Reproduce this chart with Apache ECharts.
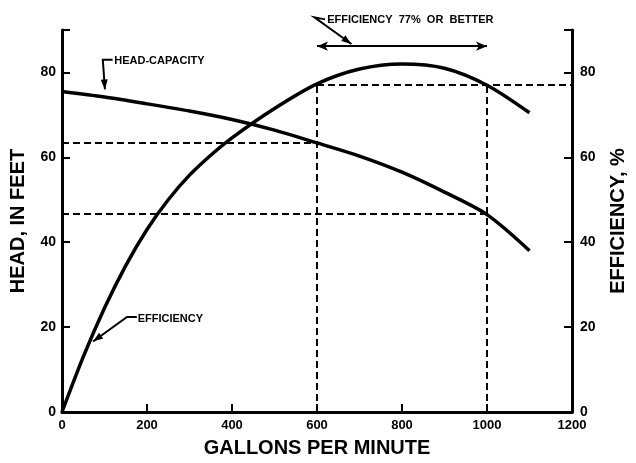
<!DOCTYPE html>
<html>
<head>
<meta charset="utf-8">
<script src="https://cdn.jsdelivr.net/npm/echarts@6/dist/echarts.min.js"></script>
<style>
  html, body { margin: 0; padding: 0; background: #fff; }
  #chart { width: 636px; height: 463px; }
</style>
</head>
<body>
<div id="chart"></div>
<script>
// pump curve
const headGpm = [0, 100, 200, 300, 400, 500, 600, 700, 800, 900, 1000, 1100];
const headFt = [75.5, 74.2, 72.6, 70.9, 68.9, 66.4, 63.4, 60.3, 56.5, 51.8, 46.5, 38];
const effGpm = [0, 50, 100, 150, 200, 250, 300, 350, 400, 500, 600, 700, 800, 900, 1000, 1100];
const effPct = [0, 13, 24.5, 34.5, 43, 50, 55.8, 60.5, 64.6, 71.5, 77.3, 80.8, 82, 81, 77, 70.5];
const xTicks = [0, 200, 400, 600, 800, 1000, 1200];
const yTicks = [0, 20, 40, 60, 80];
const yTickMarks = [0, 20, 40, 60, 80, 90];

// dashed guide lines: [x1, y1, x2, y2] in data units
const guides = [
  [0, 63.4, 600, 63.4],
  [0, 46.8, 1000, 46.8],
  [600, 77, 1200, 77],
  [600, 0, 600, 77],
  [1000, 0, 1000, 77]
];
const rangeArrow = [600, 86.2, 1000, 86.2];
// leader lines of the labels: plain segment then arrowed segment
const leaders = [
  [[119, 83], [96, 83], [101, 76]],
  [[176, 22.4], [153, 22.4], [73, 16.6]],
  [[619, 92.5], [594, 93], [681, 86.7]]
];
const notes = [
  { text: "HEAD-CAPACITY", at: [123, 82.6], size: 11 },
  { text: "EFFICIENCY", at: [178, 21.9], size: 11 },
  { text: "EFFICIENCY  77%  OR  BETTER", at: [624, 92.3], size: 11 }
];

const black = "#000";
const font = "Liberation Sans";

function seg(a, b) {
  return [{ coord: a }, { coord: b }];
}

const guideData = guides.map(g => seg([g[0], g[1]], [g[2], g[3]]));
const arrowData = [[
  { coord: [rangeArrow[0], rangeArrow[1]], symbol: "arrow" },
  { coord: [rangeArrow[2], rangeArrow[3]], symbol: "arrow" }
]];

const yAxisBase = {
  type: "value",
  min: 0,
  max: 90,
  interval: 20,
  splitLine: { show: false },
  axisLine: { show: true, lineStyle: { color: black, width: 3 } },
  axisTick: {
    show: true, inside: true, length: 8, customValues: yTickMarks,
    lineStyle: { color: black, width: 2 }
  },
  nameLocation: "middle",
  nameRotate: 90,
  nameTextStyle: { color: black, fontFamily: font, fontWeight: "bold", fontSize: 20 }
};

const chart = echarts.init(document.getElementById("chart"));
chart.setOption({
  animation: false,
  backgroundColor: "#fff",
  grid: { left: 58, right: 53, top: 30, bottom: 47 },
  xAxis: {
    type: "value",
    min: 0,
    max: 1200,
    interval: 200,
    splitLine: { show: false },
    axisLine: { lineStyle: { color: black, width: 3 } },
    axisTick: { show: true, inside: true, length: 8, lineStyle: { color: black, width: 2 } },
    axisLabel: {
      color: black, fontFamily: font, fontWeight: "bold", fontSize: 13, margin: 7,
      formatter: v => (xTicks.indexOf(v) >= 0 ? String(v) : "")
    },
    name: "GALLONS PER MINUTE",
    nameLocation: "middle",
    nameGap: 26,
    nameTextStyle: { color: black, fontFamily: font, fontWeight: "bold", fontSize: 20 }
  },
  yAxis: [
    Object.assign({}, yAxisBase, {
      position: "left",
      name: "HEAD, IN FEET",
      nameGap: 34,
      axisLabel: {
        color: black, fontFamily: font, fontWeight: "bold", fontSize: 14, margin: 6,
        customValues: yTicks
      }
    }),
    Object.assign({}, yAxisBase, {
      position: "right",
      name: "EFFICIENCY, %",
      nameGap: 36,
      axisLabel: {
        color: black, fontFamily: font, fontWeight: "bold", fontSize: 14, margin: 8,
        customValues: yTicks
      }
    })
  ],
  series: [
    {
      name: "Head-capacity",
      type: "line",
      yAxisIndex: 0,
      smooth: 0.3,
      showSymbol: false,
      lineStyle: { color: black, width: 3.5 },
      data: headGpm.map((g, i) => [g, headFt[i]]),
      markLine: {
        silent: true,
        symbol: "none",
        label: { show: false },
        lineStyle: { color: black, width: 2, type: [7, 4] },
        data: guideData
      }
    },
    {
      name: "Efficiency",
      type: "line",
      yAxisIndex: 1,
      smooth: 0.3,
      showSymbol: false,
      lineStyle: { color: black, width: 3.5 },
      data: effGpm.map((g, i) => [g, effPct[i]]),
      markLine: {
        silent: true,
        symbolSize: [7, 11],
        label: { show: false },
        lineStyle: { color: black, width: 2, type: "solid" },
        data: arrowData
      }
    }
  ]
});

// labels and their leaders can sit above the plot, so draw them as graphics
function px(p) {
  return chart.convertToPixel({ gridIndex: 0 }, p);
}
function arrowHead(tip, from) {
  const dx = tip[0] - from[0], dy = tip[1] - from[1];
  const len = Math.sqrt(dx * dx + dy * dy);
  const ux = dx / len, uy = dy / len;
  const bx = tip[0] - ux * 10, by = tip[1] - uy * 10;
  return [tip, [bx - uy * 3.5, by + ux * 3.5], [bx + uy * 3.5, by - ux * 3.5]];
}

const graphics = [];
leaders.forEach(l => {
  const pts = l.map(px);
  graphics.push({
    type: "polyline", silent: true,
    shape: { points: pts },
    style: { stroke: black, lineWidth: 2, fill: null }
  });
  graphics.push({
    type: "polygon", silent: true,
    shape: { points: arrowHead(pts[2], pts[1]) },
    style: { fill: black }
  });
});
notes.forEach(n => {
  const p = px(n.at);
  graphics.push({
    type: "text", x: p[0], y: p[1], silent: true,
    style: {
      text: n.text, fill: black,
      font: "bold " + n.size + "px '" + font + "'",
      textAlign: "left", textVerticalAlign: "middle"
    }
  });
});
chart.setOption({ graphic: graphics });
</script>
</body>
</html>
